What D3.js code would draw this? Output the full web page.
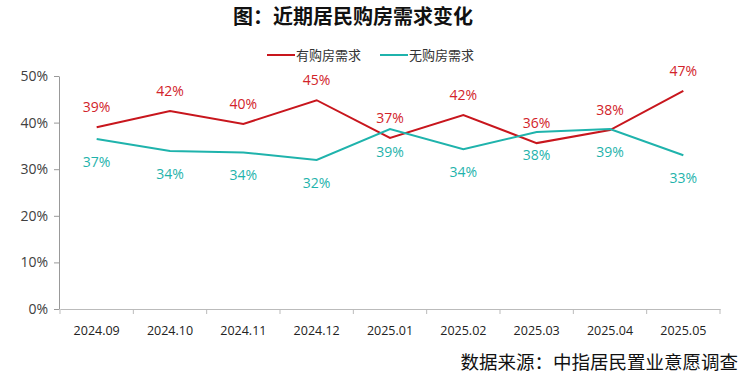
<!DOCTYPE html>
<html><head><meta charset="utf-8">
<script src="https://cdn.jsdelivr.net/npm/d3@7"></script>
<style>body{margin:0;background:#fff}svg{display:block;font-family:"Noto Sans CJK SC","Noto Sans",sans-serif}</style>
</head><body>
<svg id="c" width="749" height="380"></svg>
<script>
const categories = ["2024.09","2024.10","2024.11","2024.12","2025.01","2025.02","2025.03","2025.04","2025.05"];
const haveDemand = [39.0, 42.5, 39.7, 44.8, 36.7, 41.6, 35.6, 38.4, 46.8];
const haveLabels = ["39%","42%","40%","45%","37%","42%","36%","38%","47%"];
const noDemand = [36.5, 33.9, 33.6, 32.0, 38.6, 34.3, 38.0, 38.6, 33.0];
const noLabels = ["37%","34%","34%","32%","39%","34%","38%","39%","33%"];
const yTicks = [0,10,20,30,40,50];
const seriesNames = ["有购房需求","无购房需求"];

const svg = d3.select("#c");
const m = {l:60, r:29, t:76, b:71};
const W = 749, H = 380;
const x = d3.scaleBand().domain(categories).range([m.l, W-m.r]);
const y = d3.scaleLinear().domain([0,50]).range([H-m.b, m.t]);
const red = "#C8161D", teal = "#1FB3AC";
const numFont = "'Open Sans','Liberation Sans',sans-serif";

// title
svg.append("text").attr("x",353).attr("y",24).attr("text-anchor","middle")
  .attr("font-size",20).attr("font-weight","bold").attr("fill","#111").text("图：近期居民购房需求变化");

// legend
const lg = [{n:seriesNames[0],c:red,x:267},{n:seriesNames[1],c:teal,x:380}];
lg.forEach(d=>{
  svg.append("line").attr("x1",d.x).attr("x2",d.x+28).attr("y1",55).attr("y2",55).attr("stroke",d.c).attr("stroke-width",2);
  svg.append("text").attr("x",d.x+29).attr("y",60).attr("font-size",13).attr("fill","#333").text(d.n);
});

// y axis
const ya = svg.append("g").attr("transform",`translate(${m.l-1},0)`)
  .call(d3.axisLeft(y).tickValues(yTicks).tickFormat(d=>d+"%").tickSize(5).tickSizeOuter(0));
ya.select(".domain").attr("stroke","#999");
ya.selectAll(".tick line").attr("stroke","#999");
ya.selectAll(".tick text").attr("font-size",14).attr("fill","#404040").attr("x",-11)
  .attr("font-family",numFont);

// x axis
const xa = svg.append("g").attr("transform",`translate(0,${H-m.b})`)
  .call(d3.axisBottom(x).tickSize(0).tickSizeOuter(0));
xa.select(".domain").attr("stroke","#bbb");
xa.selectAll(".tick text").attr("font-size",12.5).attr("fill","#222").attr("dy","1.8em")
  .attr("font-family",numFont);
const bounds = categories.map(c=>x(c)).concat([x(categories[categories.length-1])+x.bandwidth()]);
xa.selectAll(".bt").data(bounds).enter().append("line")
  .attr("x1",d=>d).attr("x2",d=>d).attr("y1",0).attr("y2",5).attr("stroke","#bbb");

const cx = c => x(c)+x.bandwidth()/2;
const line = d3.line().x((d,i)=>cx(categories[i])).y(d=>y(d));
svg.append("path").datum(haveDemand).attr("d",line).attr("fill","none").attr("stroke",red).attr("stroke-width",2);
svg.append("path").datum(noDemand).attr("d",line).attr("fill","none").attr("stroke",teal).attr("stroke-width",2);

svg.selectAll(".lr").data(haveDemand).enter().append("text")
  .attr("x",(d,i)=>cx(categories[i])).attr("y",d=>y(d)-15).attr("text-anchor","middle")
  .attr("font-size",14).attr("fill","#D2232A").attr("font-family",numFont)
  .text((d,i)=>haveLabels[i]);
svg.selectAll(".lt").data(noDemand).enter().append("text")
  .attr("x",(d,i)=>cx(categories[i])).attr("y",d=>y(d)+28).attr("text-anchor","middle")
  .attr("font-size",14).attr("fill",teal).attr("font-family",numFont)
  .text((d,i)=>noLabels[i]);

// source
svg.append("text").attr("x",738).attr("y",369).attr("text-anchor","end")
  .attr("font-size",18.5).attr("fill","#111").text("数据来源：中指居民置业意愿调查");
</script>
</body></html>
